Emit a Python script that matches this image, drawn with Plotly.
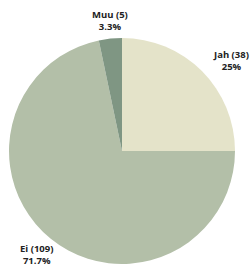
import plotly.graph_objects as go

labels = ["Jah", "Ei", "Muu"]
values = [38, 109, 5]
colors = ["#e4e3c9", "#b3bfa8", "#7f9683"]

W, H = 250, 264
total = sum(values)

def fmt_pct(v):
    p = round(v / total * 100, 1)
    s = f"{p:.1f}"
    if s.endswith(".0"):
        s = s[:-2]
    return s + "%"

texts = [f"<b>{l} ({v})<br>{fmt_pct(v)}</b>" for l, v in zip(labels, values)]

fig = go.Figure(go.Pie(
    labels=labels,
    values=values,
    textinfo="none",
    sort=False,
    direction="clockwise",
    rotation=0,
    marker=dict(colors=colors, line=dict(width=0)),
    showlegend=False,
    hoverinfo="label+value+percent",
    domain=dict(x=[8 / W, 236 / W], y=[0, (H - 38) / H]),
))

# label anchor positions in pixels (center x, center y of the two-line block)
label_pos = [(231, 60), (36, 254), (110, 20)]
for t, (px, py) in zip(texts, label_pos):
    fig.add_annotation(
        x=px / W, y=1 - py / H, xref="paper", yref="paper",
        text=t, showarrow=False, xanchor="center", yanchor="middle",
        align="center",
        font=dict(family="Open Sans", size=9.5, color="#222222"),
    )

fig.update_layout(
    width=W, height=H,
    margin=dict(l=0, r=0, t=0, b=0),
    paper_bgcolor="white",
    plot_bgcolor="white",
)

fig.write_html(
    "out.html",
    config={"displayModeBar": False},
    post_script="document.body.style.margin='0';document.body.style.overflow='hidden';",
)
